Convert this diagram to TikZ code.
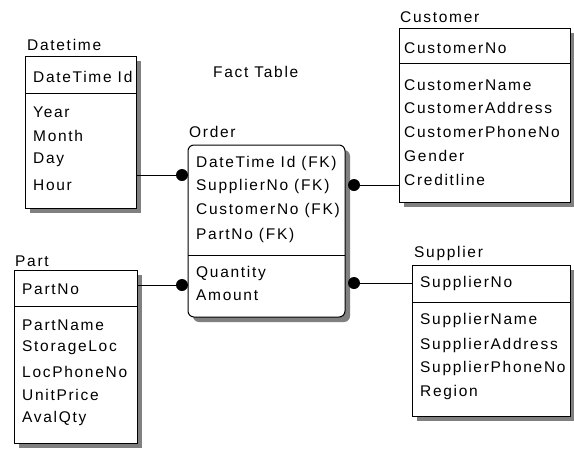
\documentclass[tikz,border=0pt]{standalone}
\usepackage{fontspec}
\setmainfont{Liberation Sans}[LetterSpace=11]
\definecolor{shadowgray}{gray}{0.5}
\begin{document}
\begin{tikzpicture}[x=1pt,y=-1pt,
  ent/.style={draw, line width=1pt, fill=white, anchor=north west, inner sep=0pt, outer sep=0pt},
  lbl/.style={anchor=west, inner sep=0pt, font=\fontsize{15.5}{17}\selectfont},
  dot/.style={circle, fill=black, inner sep=0pt, minimum size=12pt},
  conn/.style={line width=1pt}]
\useasboundingbox (0,0) rectangle (574,448);
% shadows
\fill[shadowgray] (30,61) rectangle (141,213);
\fill[shadowgray, rounded corners=6pt] (193,150) rectangle (350,322);
\fill[shadowgray] (404,33) rectangle (575,207);
\fill[shadowgray] (19,275) rectangle (142,448);
\fill[shadowgray] (417,270) rectangle (575,421);
% Datetime
\node[ent, minimum width=111pt, minimum height=152pt] (dt) at (25,56) {};
\draw[conn] (dt.west |- 0,93) -- (dt.east |- 0,93);
\node[lbl] (dtt) at (27,45) {Datetime};
\node[lbl] (dt0) at (33,77) {DateTime Id};
\node[lbl] (dt1) at (33,112) {Year};
\node[lbl] (dt2) at (33,136) {Month};
\node[lbl] (dt3) at (33,160) {Day};
\node[lbl] (dt4) at (33,185) {Hour};
\node[lbl] (ft) at (213,72) {Fact Table};
% Order
\node[ent, rounded corners=6pt, minimum width=157pt, minimum height=172pt] (or) at (188,145) {};
\draw[conn] (or.west |- 0,255) -- (or.east |- 0,255);
\node[lbl] (ort) at (189,132) {Order};
\node[lbl] (or1) at (196,163) {DateTime Id (FK)};
\node[lbl] (or2) at (196,186) {SupplierNo (FK)};
\node[lbl] (or3) at (196,210) {CustomerNo (FK)};
\node[lbl] (or4) at (196,235) {PartNo (FK)};
\node[lbl] (or5) at (196,273) {Quantity};
\node[lbl] (or6) at (196,295) {Amount};
% Customer
\node[ent, minimum width=171pt, minimum height=174pt] (cu) at (399,28) {};
\draw[conn] (cu.west |- 0,63) -- (cu.east |- 0,63);
\node[lbl] (cut) at (400,17) {Customer};
\node[lbl] (cu0) at (404,48) {CustomerNo};
\node[lbl] (cu1) at (404,85) {CustomerName};
\node[lbl] (cu2) at (404,108) {CustomerAddress};
\node[lbl] (cu3) at (404,132) {CustomerPhoneNo};
\node[lbl] (cu4) at (404,156) {Gender};
\node[lbl] (cu5) at (404,180) {Creditline};
% Part
\node[ent, minimum width=123pt, minimum height=173pt] (pa) at (14,270) {};
\draw[conn] (pa.west |- 0,306) -- (pa.east |- 0,306);
\node[lbl] (pat) at (15,261) {Part};
\node[lbl] (pa0) at (22,289) {PartNo};
\node[lbl] (pa1) at (22,325) {PartName};
\node[lbl] (pa2) at (22,348) {StorageLoc};
\node[lbl] (pa3) at (22,372) {LocPhoneNo};
\node[lbl] (pa4) at (22,395) {UnitPrice};
\node[lbl] (pa5) at (22,418) {AvalQty};
% Supplier
\node[ent, minimum width=158pt, minimum height=151pt] (su) at (412,265) {};
\draw[conn] (su.west |- 0,302) -- (su.east |- 0,302);
\node[lbl] (sut) at (414,253) {Supplier};
\node[lbl] (su0) at (420,283) {SupplierNo};
\node[lbl] (su1) at (420,320) {SupplierName};
\node[lbl] (su2) at (420,345) {SupplierAddress};
\node[lbl] (su3) at (420,368) {SupplierPhoneNo};
\node[lbl] (su4) at (420,392) {Region};
% Connectors
\node[dot] (d1) at (182,175) {};
\node[dot] (d2) at (354,185) {};
\node[dot] (d3) at (182,285) {};
\node[dot] (d4) at (354,283) {};
\draw[conn] (dt.east |- d1) -- (d1);
\draw[conn] (d2) -- (cu.west |- d2);
\draw[conn] (pa.east |- d3) -- (d3);
\draw[conn] (d4) -- (su.west |- d4);
\end{tikzpicture}
\end{document}
